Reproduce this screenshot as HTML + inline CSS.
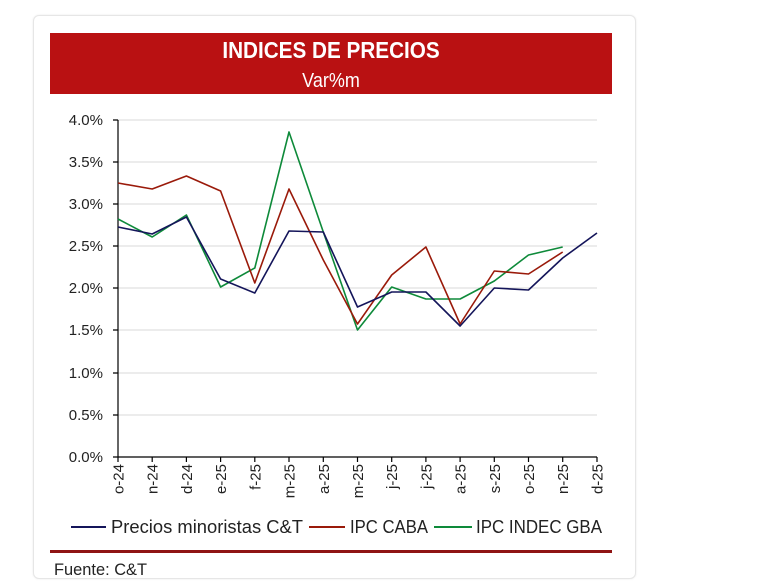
<!DOCTYPE html>
<html><head><meta charset="utf-8"><style>
body{margin:0;background:#fff;width:760px;height:587px;overflow:hidden;font-family:"Liberation Sans",sans-serif}
.card{position:absolute;left:33px;top:15px;width:601px;height:562px;border:1px solid #e6e6e6;border-radius:6px;background:#fff;box-shadow:0 0 2px rgba(0,0,0,0.08)}
</style></head><body>
<div class="card"></div>
<svg width="760" height="587" style="position:absolute;left:0;top:0" font-family="Liberation Sans, sans-serif">
<rect x="50" y="33" width="562" height="61" fill="#b91112"/>
<text x="331" y="58" fill="#fff" font-size="23" font-weight="bold" text-anchor="middle" transform="translate(331 0) scale(0.9 1) translate(-331 0)">INDICES DE PRECIOS</text>
<text x="331" y="87" fill="#fff" font-size="20" text-anchor="middle" transform="translate(331 0) scale(0.9 1) translate(-331 0)">Var%m</text>
<g stroke="#d9d9d9" stroke-width="1">
<line x1="118" x2="597" y1="120" y2="120"/><line x1="118" x2="597" y1="162" y2="162"/>
<line x1="118" x2="597" y1="204" y2="204"/><line x1="118" x2="597" y1="246" y2="246"/>
<line x1="118" x2="597" y1="288" y2="288"/><line x1="118" x2="597" y1="330" y2="330"/>
<line x1="118" x2="597" y1="373" y2="373"/><line x1="118" x2="597" y1="415" y2="415"/>
</g>
<g stroke="#000" stroke-width="1.2">
<line x1="118" x2="118" y1="120" y2="457"/><line x1="118" x2="597" y1="457" y2="457"/>
<path d="M113 120h5M113 162h5M113 204h5M113 246h5M113 288h5M113 330h5M113 373h5M113 415h5M113 457h5"/>
<path d="M118 457v5M152.2 457v5M186.4 457v5M220.6 457v5M254.8 457v5M289 457v5M323.3 457v5M357.5 457v5M391.7 457v5M425.9 457v5M460.1 457v5M494.3 457v5M528.5 457v5M562.7 457v5M597 457v5"/>
</g>
<g font-size="15" fill="#222" text-anchor="end">
<text x="103" y="125">4.0%</text><text x="103" y="167">3.5%</text><text x="103" y="209">3.0%</text>
<text x="103" y="251">2.5%</text><text x="103" y="293">2.0%</text><text x="103" y="335">1.5%</text>
<text x="103" y="378">1.0%</text><text x="103" y="420">0.5%</text><text x="103" y="462">0.0%</text>
</g>
<g font-size="15" fill="#222" text-anchor="end">
<text transform="translate(123.5 464) rotate(-90)">o-24</text>
<text transform="translate(157.7 464) rotate(-90)">n-24</text>
<text transform="translate(191.9 464) rotate(-90)">d-24</text>
<text transform="translate(226.1 464) rotate(-90)">e-25</text>
<text transform="translate(260.3 464) rotate(-90)">f-25</text>
<text transform="translate(294.5 464) rotate(-90)">m-25</text>
<text transform="translate(328.8 464) rotate(-90)">a-25</text>
<text transform="translate(363 464) rotate(-90)">m-25</text>
<text transform="translate(397.2 464) rotate(-90)">j-25</text>
<text transform="translate(431.4 464) rotate(-90)">j-25</text>
<text transform="translate(465.6 464) rotate(-90)">a-25</text>
<text transform="translate(499.8 464) rotate(-90)">s-25</text>
<text transform="translate(534 464) rotate(-90)">o-25</text>
<text transform="translate(568.2 464) rotate(-90)">n-25</text>
<text transform="translate(602.5 464) rotate(-90)">d-25</text>
</g>
<g fill="none" stroke-width="1.6" stroke-linejoin="round">
<polyline stroke="#0e8a3a" points="118,219 152.2,237 186.4,215 220.6,287 254.8,268 289,132 323.3,232 357.5,330 391.7,287 425.9,299 460.1,299 494.3,281 528.5,255 562.7,247"/>
<polyline stroke="#9a1a0a" points="118,183 152.2,189 186.4,176 220.6,191 254.8,283 289,189 323.3,260 357.5,324 391.7,275 425.9,247 460.1,324 494.3,271 528.5,274 562.7,252"/>
<polyline stroke="#14155a" points="118,227 152.2,234 186.4,217 220.6,279 254.8,293 289,231 323.3,232 357.5,307 391.7,292 425.9,292 460.1,326 494.3,288 528.5,290 562.7,258 597,233"/>
</g>
<g font-size="18" fill="#222">
<line x1="71" x2="106" y1="527" y2="527" stroke="#14155a" stroke-width="2"/>
<text x="111" y="533" textLength="192" lengthAdjust="spacingAndGlyphs">Precios minoristas C&amp;T</text>
<line x1="309" x2="345" y1="527" y2="527" stroke="#9a1a0a" stroke-width="2"/>
<text x="350" y="533" textLength="78" lengthAdjust="spacingAndGlyphs">IPC CABA</text>
<line x1="434" x2="472" y1="527" y2="527" stroke="#0e8a3a" stroke-width="2"/>
<text x="476" y="533" textLength="126" lengthAdjust="spacingAndGlyphs">IPC INDEC GBA</text>
</g>
<rect x="50" y="550" width="562" height="3" fill="#8f1414"/>
<text x="54" y="575" font-size="17" fill="#222" textLength="93" lengthAdjust="spacingAndGlyphs">Fuente: C&amp;T</text>
</svg>
</body></html>
